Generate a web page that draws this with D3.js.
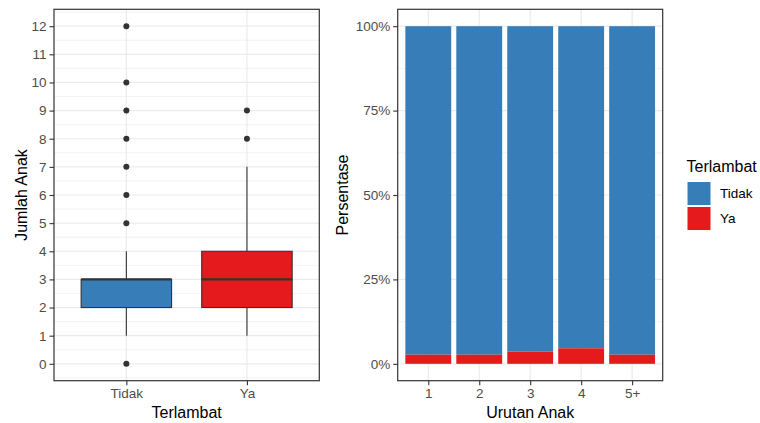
<!DOCTYPE html>
<html><head><meta charset="utf-8">
<script src="https://cdn.jsdelivr.net/npm/d3@7"></script>
<style>body{margin:0;background:#fff}svg{display:block}text{font-family:"Liberation Sans",Arial,sans-serif}</style>
</head><body><svg id="c" width="760" height="423"></svg>
<script>
// ---- data ----
const boxCategories = ["Tidak", "Ya"];
const boxColors = ["#377EB8", "#E41A1C"];
const boxQ1 = [2, 2];
const boxMedian = [3, 3];
const boxQ3 = [3, 4];
const whiskerLow = [1, 1];
const whiskerHigh = [4, 7];
const outliersTidak = [0, 5, 6, 7, 8, 9, 10, 12];
const outliersYa = [8, 9];
const leftYTicks = [0,1,2,3,4,5,6,7,8,9,10,11,12];

const barCategories = ["1", "2", "3", "4", "5+"];
const shareYa = [0.027, 0.027, 0.036, 0.046, 0.027];
const shareTidak = [0.973, 0.973, 0.964, 0.954, 0.973];
const rightYTicks = [0, 0.25, 0.5, 0.75, 1];
const legendLabels = ["Tidak", "Ya"];

// ---- drawing ----
const svg = d3.select("#c");
const grid = "#ebebeb", border = "#333333", tickCol = "#4d4d4d";
const pTop = 9.3, pBottom = 380.7;

function panel(x0, x1) {
  const g = svg.append("g");
  g.append("rect").attr("x", x0).attr("y", pTop).attr("width", x1 - x0).attr("height", pBottom - pTop).attr("fill", "#fff");
  return g;
}

// Left panel
const L0 = 54, L1 = 319.3;
const gl = panel(L0, L1);
const yL = d3.scaleLinear().domain([-0.6, 12.6]).range([pBottom, pTop]);
const xLc = d3.scalePoint().domain(boxCategories).range([L0 + (L1-L0)*0.6/2.2, L1 - (L1-L0)*0.6/2.2]);
const unitL = (L1 - L0) / 2.2;
d3.range(-0.5, 12.6, 1).forEach(v => gl.append("line").attr("x1", L0).attr("x2", L1).attr("y1", yL(v)).attr("y2", yL(v)).attr("stroke", grid).attr("stroke-width", 0.6));
leftYTicks.forEach(v => gl.append("line").attr("x1", L0).attr("x2", L1).attr("y1", yL(v)).attr("y2", yL(v)).attr("stroke", grid).attr("stroke-width", 1.2));
boxCategories.forEach(c => gl.append("line").attr("x1", xLc(c)).attr("x2", xLc(c)).attr("y1", pTop).attr("y2", pBottom).attr("stroke", grid).attr("stroke-width", 1.2));

const outliers = [outliersTidak, outliersYa];
boxCategories.forEach((c, i) => {
  const cx = xLc(c), hw = unitL * 0.75 / 2;
  gl.append("line").attr("x1", cx).attr("x2", cx).attr("y1", yL(boxQ3[i])).attr("y2", yL(whiskerHigh[i])).attr("stroke", border).attr("stroke-width", 1.1);
  gl.append("line").attr("x1", cx).attr("x2", cx).attr("y1", yL(boxQ1[i])).attr("y2", yL(whiskerLow[i])).attr("stroke", border).attr("stroke-width", 1.1);
  gl.append("rect").attr("x", cx - hw).attr("y", yL(boxQ3[i])).attr("width", 2 * hw).attr("height", yL(boxQ1[i]) - yL(boxQ3[i]))
    .attr("fill", boxColors[i]).attr("stroke", border).attr("stroke-width", 1.1);
  gl.append("line").attr("x1", cx - hw).attr("x2", cx + hw).attr("y1", yL(boxMedian[i])).attr("y2", yL(boxMedian[i])).attr("stroke", border).attr("stroke-width", 2.4);
  outliers[i].forEach(v => gl.append("circle").attr("cx", cx).attr("cy", yL(v)).attr("r", 3).attr("fill", border));
});
gl.append("rect").attr("x", L0).attr("y", pTop).attr("width", L1 - L0).attr("height", pBottom - pTop).attr("fill", "none").attr("stroke", border).attr("stroke-width", 1.2);

svg.append("g").attr("transform", `translate(${L0},0)`).call(d3.axisLeft(yL).tickValues(leftYTicks).tickSize(4.5).tickPadding(3));
svg.append("g").attr("transform", `translate(0,${pBottom})`).call(d3.axisBottom(xLc).tickSize(4.5).tickPadding(3));

// Right panel
const R0 = 397.7, R1 = 662.7;
const gr = panel(R0, R1);
const yR = d3.scaleLinear().domain([-0.05, 1.05]).range([pBottom, pTop]);
const unitR = (R1 - R0) / 5.2;
const xR = d3.scalePoint().domain(barCategories).range([R0 + unitR * 0.6, R1 - unitR * 0.6]);
d3.range(0.125, 1.05, 0.25).forEach(v => gr.append("line").attr("x1", R0).attr("x2", R1).attr("y1", yR(v)).attr("y2", yR(v)).attr("stroke", grid).attr("stroke-width", 0.6));
rightYTicks.forEach(v => gr.append("line").attr("x1", R0).attr("x2", R1).attr("y1", yR(v)).attr("y2", yR(v)).attr("stroke", grid).attr("stroke-width", 1.2));
barCategories.forEach(c => gr.append("line").attr("x1", xR(c)).attr("x2", xR(c)).attr("y1", pTop).attr("y2", pBottom).attr("stroke", grid).attr("stroke-width", 1.2));
barCategories.forEach((c, i) => {
  const bw = unitR * 0.9, x = xR(c) - bw / 2;
  gr.append("rect").attr("x", x).attr("y", yR(shareYa[i] + shareTidak[i])).attr("width", bw).attr("height", yR(shareYa[i]) - yR(shareYa[i] + shareTidak[i])).attr("fill", boxColors[0]);
  gr.append("rect").attr("x", x).attr("y", yR(shareYa[i])).attr("width", bw).attr("height", yR(0) - yR(shareYa[i])).attr("fill", boxColors[1]);
});
gr.append("rect").attr("x", R0).attr("y", pTop).attr("width", R1 - R0).attr("height", pBottom - pTop).attr("fill", "none").attr("stroke", border).attr("stroke-width", 1.2);

svg.append("g").attr("transform", `translate(${R0},0)`).call(d3.axisLeft(yR).tickValues(rightYTicks).tickFormat(d3.format(".0%")).tickSize(4.5).tickPadding(3));
svg.append("g").attr("transform", `translate(0,${pBottom})`).call(d3.axisBottom(xR).tickSize(4.5).tickPadding(3));

svg.selectAll(".domain").remove();
svg.selectAll(".tick line").attr("stroke", border).attr("stroke-width", 1.1);
svg.selectAll(".tick text").attr("fill", tickCol).style("font-size", "13.5px").style("font-family", "Liberation Sans, Arial, sans-serif");

// axis titles
const tfs = "16px";
svg.append("text").attr("x", (L0 + L1) / 2).attr("y", 418).attr("text-anchor", "middle").style("font-size", tfs).text("Terlambat");
svg.append("text").attr("x", (R0 + R1) / 2).attr("y", 418).attr("text-anchor", "middle").style("font-size", tfs).text("Urutan Anak");
svg.append("text").attr("transform", `translate(26.5,${(pTop + pBottom) / 2}) rotate(-90)`).attr("text-anchor", "middle").style("font-size", tfs).text("Jumlah Anak");
svg.append("text").attr("transform", `translate(348,${(pTop + pBottom) / 2}) rotate(-90)`).attr("text-anchor", "middle").style("font-size", tfs).text("Persentase");

// legend
const lg = svg.append("g");
lg.append("text").attr("x", 686.5).attr("y", 172).style("font-size", tfs).text("Terlambat");
legendLabels.forEach((lab, i) => {
  const y0 = 181.5 + i * 25;
  lg.append("rect").attr("x", 687).attr("y", y0).attr("width", 24).attr("height", 24).attr("fill", boxColors[i]).attr("stroke", "#fff").attr("stroke-width", 1);
  lg.append("text").attr("x", 720).attr("y", y0 + 12).attr("dy", "0.35em").style("font-size", "13.5px").attr("fill", "#000").text(lab);
});
</script></body></html>
